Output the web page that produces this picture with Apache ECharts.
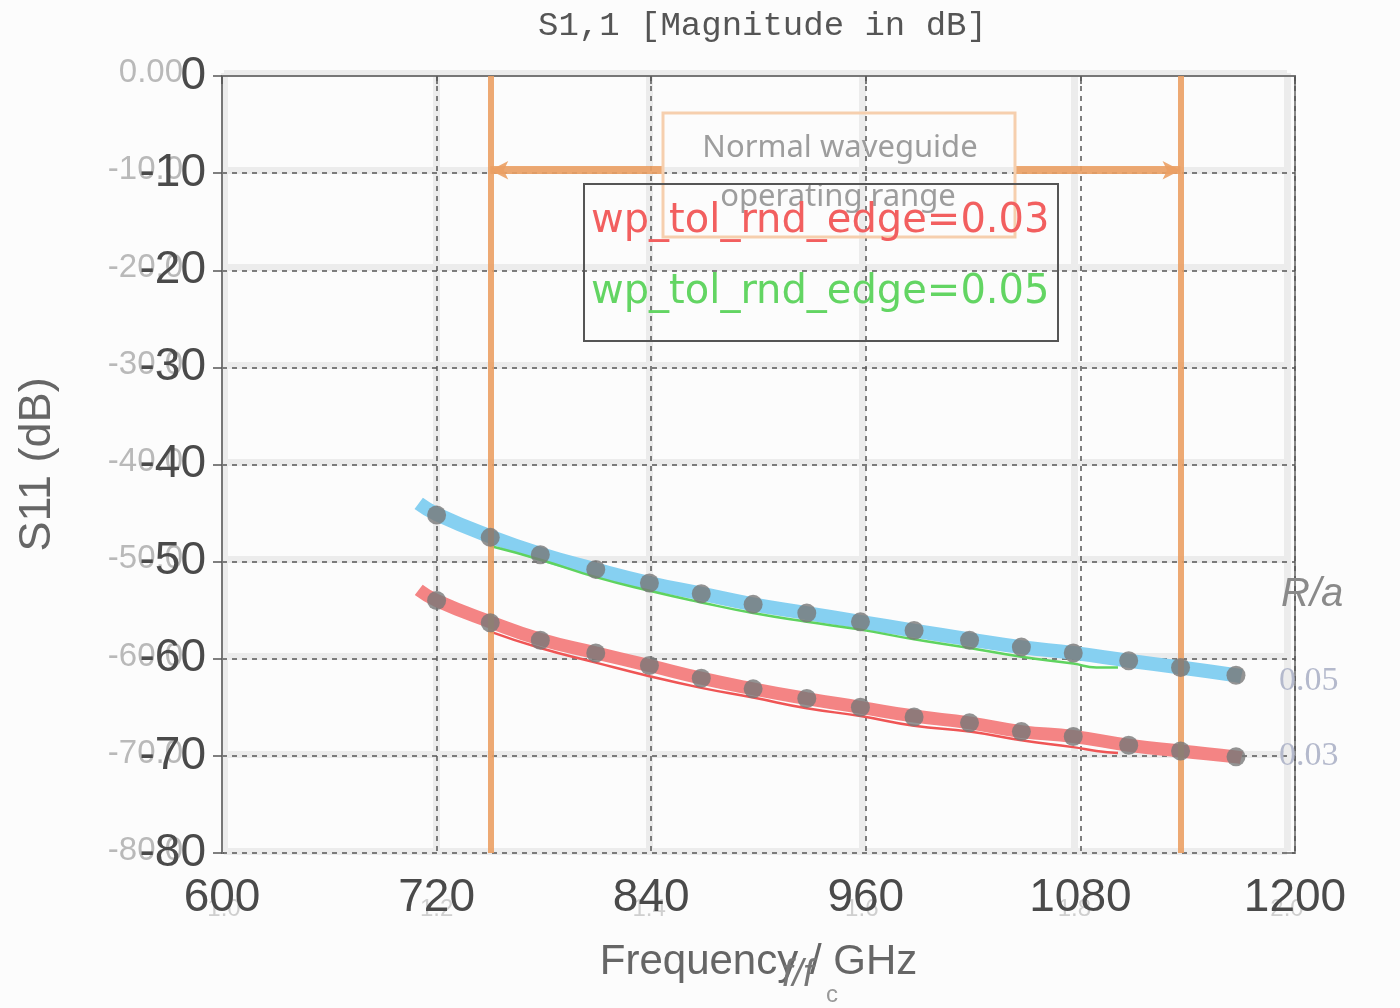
<!DOCTYPE html>
<html>
<head>
<meta charset="utf-8">
<script src="https://cdn.jsdelivr.net/npm/echarts@6/dist/echarts.min.js"></script>
<style>html,body{margin:0;padding:0;background:#fcfcfc;}#c{width:1400px;height:1008px;}</style>
</head>
<body>
<div id="c"></div>
<script>
// ---- data ----
const xTicks = [600, 720, 840, 960, 1080, 1200];
const yTicks = [0, -10, -20, -30, -40, -50, -60, -70, -80];
const dotFreq = [720, 750, 778, 809, 839, 868, 897, 927, 957, 987, 1018, 1047, 1076, 1107, 1136, 1167];
const dotsRa005 = [-45.2, -47.5, -49.3, -50.8, -52.2, -53.3, -54.4, -55.3, -56.2, -57.1, -58.1, -58.8, -59.4, -60.2, -60.9, -61.7];
const dotsRa003 = [-54.0, -56.3, -58.1, -59.4, -60.7, -62.0, -63.1, -64.1, -65.0, -66.0, -66.6, -67.5, -68.0, -68.9, -69.5, -70.1];
const curveFreq = [710, 720, 750, 778, 809, 839, 868, 897, 927, 957, 987, 1018, 1047, 1076, 1107, 1136, 1167, 1170];
const curveRa005 = [-44.0, -45.1, -47.4, -49.2, -50.8, -52.2, -53.3, -54.4, -55.3, -56.2, -57.1, -58.0, -58.8, -59.4, -60.2, -60.9, -61.7, -61.8];
const curveRa003 = [-52.9, -54.0, -56.2, -58.0, -59.4, -60.7, -62.0, -63.1, -64.1, -65.0, -65.9, -66.6, -67.5, -68.0, -68.9, -69.5, -70.1, -70.2];
const simFreq = [750, 778, 809, 839, 868, 897, 927, 957, 987, 1018, 1047, 1076, 1089, 1101];
const simEdge003 = [-57.2, -58.9, -60.4, -61.8, -63.0, -64.0, -65.1, -65.9, -66.9, -67.5, -68.4, -69.1, -69.5, -69.7];
const simEdge005 = [-48.4, -49.8, -51.6, -53.0, -54.2, -55.3, -56.2, -57.0, -58.0, -58.9, -59.8, -60.5, -60.9, -60.9];
const bandEdges = [750, 1136];          // normal waveguide operating range (GHz)
const arrowLevel = -9.7;                // dB level of the range arrows
const arrowInner = [846.6, 1043.4];     // where arrows meet the annotation box
const legendNames = ['wp_tol_rnd_edge=0.03', 'wp_tol_rnd_edge=0.05'];
const raLabels = ['R/a', '0.05', '0.03'];
const ghostX = [1.0, 1.2, 1.4, 1.6, 1.8, 2.0];

const zip = (a, b) => a.map((v, i) => [v, b[i]]);
const FN = 'Liberation Sans Narrow, Liberation Sans, sans-serif';

const chart = echarts.init(document.getElementById('c'), null, {renderer: 'canvas'});
const orange = 'rgba(235,160,100,0.9)';

chart.setOption({
  backgroundColor: '#fcfcfc',
  animation: false,
  title: {
    text: 'S1,1 [Magnitude in dB]', left: 533, top: 4,
    textStyle: {fontFamily: 'Liberation Mono, DejaVu Sans Mono, monospace', fontSize: 34, fontWeight: 'normal', color: '#555'}
  },
  grid: [
    {left: 222, right: 105, top: 76, bottom: 155, show: true, borderColor: '#8a8a8a', borderWidth: 2, backgroundColor: 'transparent'},
    {left: 224, right: 113, top: 73, bottom: 157}
  ],
  xAxis: [
    {
      type: 'value', gridIndex: 0, min: 600, max: 1200, interval: 120,
      name: 'Frequency / GHz', nameLocation: 'middle', nameGap: 88,
      nameTextStyle: {fontFamily: 'Liberation Sans, sans-serif', fontSize: 42, color: '#666'},
      axisLine: {show: true, lineStyle: {color: '#777', width: 2}},
      axisTick: {show: true, length: 8, lineStyle: {color: '#555', width: 1.5}},
      axisLabel: {fontFamily: FN, fontSize: 46, color: '#4a4a4a', margin: 22, formatter: v => String(v)},
      splitLine: {show: true, lineStyle: {color: '#555', type: [5, 5], width: 1.5}},
      z: 3
    },
    {
      type: 'value', gridIndex: 1, min: 1.0, max: 2.0, interval: 0.2,
      axisLine: {show: false}, axisTick: {show: false},
      axisLabel: {fontFamily: FN, fontSize: 24, color: '#cfcfcf', margin: 46, formatter: v => v.toFixed(1)},
      splitLine: {show: true, lineStyle: {color: '#ececec', width: 7}},
      z: 0
    }
  ],
  yAxis: [
    {
      type: 'value', gridIndex: 0, min: -80, max: 0, interval: 10,
      name: 'S11 (dB)', nameLocation: 'middle', nameGap: 162, nameRotate: 90,
      nameTextStyle: {fontFamily: 'Liberation Sans, sans-serif', fontSize: 45, color: '#666'},
      axisLine: {show: true, lineStyle: {color: '#777', width: 2}},
      axisTick: {show: true, length: 9, lineStyle: {color: '#555', width: 1.5}},
      axisLabel: {fontFamily: FN, fontSize: 46, color: '#4a4a4a', margin: 16, formatter: v => String(v)},
      splitLine: {show: true, lineStyle: {color: '#555', type: [5, 5], width: 1.5}},
      z: 3
    },
    {
      type: 'value', gridIndex: 1, min: -80, max: 0, interval: 10,
      axisLine: {show: false}, axisTick: {show: false},
      axisLabel: {fontFamily: FN, fontSize: 33, color: '#b9b9b9', margin: 41,
        formatter: v => v === 0 ? '0.00' : v.toFixed(1)},
      splitLine: {show: true, lineStyle: {color: '#ececec', width: 7}},
      z: 0
    }
  ],
  series: [
    {type: 'line', xAxisIndex: 0, yAxisIndex: 0, data: zip(curveFreq, curveRa005), smooth: true, showSymbol: false,
      lineStyle: {color: '#86d0f1', width: 14}, z: 3},
    {type: 'line', xAxisIndex: 0, yAxisIndex: 0, data: zip(curveFreq, curveRa003), smooth: true, showSymbol: false,
      lineStyle: {color: '#f48484', width: 13}, z: 3},
    {type: 'line', name: legendNames[0], xAxisIndex: 0, yAxisIndex: 0, data: zip(simFreq, simEdge003), smooth: true, showSymbol: false,
      lineStyle: {color: '#ef5555', width: 2.5}, z: 4},
    {type: 'line', name: legendNames[1], xAxisIndex: 0, yAxisIndex: 0, data: zip(simFreq, simEdge005), smooth: true, showSymbol: false,
      lineStyle: {color: '#5fd35f', width: 2.5}, z: 4},
    {type: 'scatter', xAxisIndex: 0, yAxisIndex: 0, data: zip(dotFreq, dotsRa005), symbolSize: 19,
      itemStyle: {color: '#787878'}, z: 5},
    {type: 'scatter', xAxisIndex: 0, yAxisIndex: 0, data: zip(dotFreq, dotsRa003), symbolSize: 19,
      itemStyle: {color: '#787878'}, z: 5,
      markLine: {
        silent: true, animation: false, symbol: ['none', 'none'], label: {show: false},
        lineStyle: {color: orange, width: 6, type: 'solid'},
        data: bandEdges.map(v => ({xAxis: v}))
      }
    },
    {type: 'line', xAxisIndex: 0, yAxisIndex: 0, data: [], z: 6,
      markLine: {
        silent: true, animation: false, label: {show: false},
        symbol: ['none', 'arrow'], symbolSize: [14, 18],
        lineStyle: {color: orange, width: 8, type: 'solid'},
        data: [
          [{coord: [arrowInner[0], arrowLevel]}, {coord: [bandEdges[0], arrowLevel]}],
          [{coord: [arrowInner[1], arrowLevel]}, {coord: [bandEdges[1], arrowLevel]}]
        ]
      }
    }
  ],
  graphic: [
    {type: 'rect', shape: {x: 663, y: 113, width: 352, height: 124}, style: {fill: 'none', stroke: '#f6cfae', lineWidth: 3}, z: 10},
    {type: 'text', x: 840, y: 148, style: {text: 'Normal waveguide', font: '31px "Noto Sans"', fill: '#9d9d9d', textAlign: 'center', textVerticalAlign: 'middle'}, z: 10},
    {type: 'text', x: 838, y: 197, style: {text: 'operating range', font: '31px "Noto Sans"', fill: '#9d9d9d', textAlign: 'center', textVerticalAlign: 'middle'}, z: 10},
    {type: 'rect', shape: {x: 584, y: 184, width: 474, height: 157}, style: {fill: 'none', stroke: '#555', lineWidth: 2}, z: 11},
    {type: 'text', x: 591, y: 222, style: {text: legendNames[0], font: '40px "DejaVu Sans"', fill: '#f25f5f', textAlign: 'left', textVerticalAlign: 'middle'}, z: 11},
    {type: 'text', x: 591, y: 293, style: {text: legendNames[1], font: '40px "DejaVu Sans"', fill: '#63d563', textAlign: 'left', textVerticalAlign: 'middle'}, z: 11},
    {type: 'text', x: 1281, y: 595, style: {text: raLabels[0], font: 'italic 40px "Liberation Sans"', fill: '#8a8a8a', textAlign: 'left', textVerticalAlign: 'middle'}, z: 11},
    {type: 'text', x: 1279, y: 681, style: {text: raLabels[1], font: '34px "Liberation Sans Narrow"', fill: '#b4b9cc', textAlign: 'left', textVerticalAlign: 'middle'}, z: 11},
    {type: 'text', x: 1279, y: 756, style: {text: raLabels[2], font: '34px "Liberation Sans Narrow"', fill: '#b4b9cc', textAlign: 'left', textVerticalAlign: 'middle'}, z: 11},
    {type: 'text', x: 782, y: 975, style: {text: 'f/f', font: 'italic 38px "Liberation Sans"', fill: '#777', textAlign: 'left', textVerticalAlign: 'middle'}, z: 11},
    {type: 'text', x: 826, y: 995, style: {text: 'c', font: '24px "Liberation Sans"', fill: '#999', textAlign: 'left', textVerticalAlign: 'middle'}, z: 11}
  ]
});
</script>
</body>
</html>
